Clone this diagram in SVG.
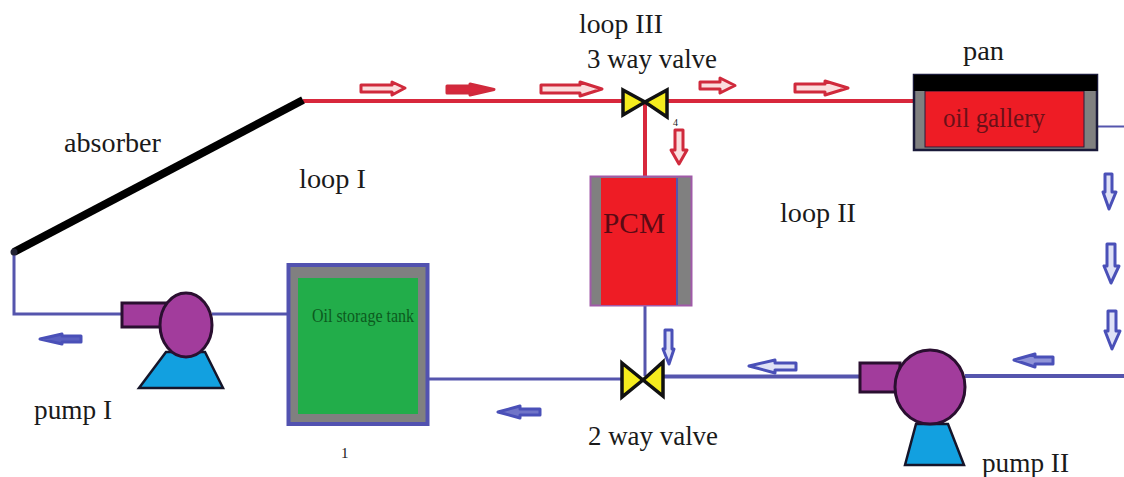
<svg xmlns="http://www.w3.org/2000/svg" width="1124" height="477" viewBox="0 0 1124 477">
<style>
text{font-family:"Liberation Serif","Times New Roman",serif;fill:#1a1a1a}
.lbl{font-size:27px}
.rp{fill:none;stroke:#d8283c;stroke-width:4}
.bp{fill:none;stroke:#5555ad;stroke-width:3}
.ra{fill:#fbdede;stroke:#d02a3c;stroke-width:3;stroke-linejoin:round}
.ba{fill:#dfe1f6;stroke:#4a50b8;stroke-width:3;stroke-linejoin:round}
.valve{fill:#f5ec1e;stroke:#111;stroke-width:3.5;stroke-linejoin:miter}
.casing{fill:#a23c9c;stroke:#2a0f30;stroke-width:3}
.base{fill:#12a0e0;stroke:#15152a;stroke-width:2.5}
.grey{fill:#808080}
.red{fill:#ee1c25}
</style>
<rect width="1124" height="477" fill="#fff"/>
<g id="connectors">
<path class="rp" d="M303 101H622M668 101H913M645 102V176"/>
<path class="bp" d="M14 250V314H121M212 314H288"/>
<path class="bp" d="M429 379H622"/>
<path class="bp" style="stroke-width:4" d="M663 376.500H860M965 376H1124"/>
<path class="bp" d="M645 306V376"/>
<path class="bp" style="stroke-width:2" d="M1098 126.500H1124"/>
<path class="ra" d="M361 85H392V82L405 88L392 95V92H361Z"/>
<path class="ra" style="fill:#d8283c" d="M447 86H470V84L494 89.500L470 95V93H447Z"/>
<path class="ra" d="M541 85H580V82L602 89L580 96V93H541Z"/>
<path class="ra" d="M700 82H720V78L735 85.500L720 93V89H700Z"/>
<path class="ra" d="M795 84H825V81L848 88L825 95V92H795Z"/>
<path class="ra" d="M675 130H683V150H687L679 164L671 150H675Z"/>
<path class="ba" d="M1105 174H1112V192H1116L1109 209L1103 192H1105Z"/>
<path class="ba" d="M1107 244H1115V266H1119L1111 283L1104 266H1107Z"/>
<path class="ba" d="M1108 311H1116V331H1120L1112 349L1105 331H1108Z"/>
<path class="ba" d="M665 330H672V349H674L669 364L663 349H665Z"/>
<path class="ba" style="fill:#5a60c0" d="M81 336V342H62V344L40 339L62 334V336Z"/>
<path class="ba" style="fill:#7074c8" d="M540 409V415H520V418L498 412L520 406V409Z"/>
<path class="ba" d="M796 363V370H775V373L749 366L775 360V363Z"/>
<path class="ba" style="fill:#9094d8" d="M1053 357V364H1035V367L1014 360L1035 354V357Z"/>
</g>
<g id="absorber"><path d="M14 252L303 100" stroke="#000" stroke-width="8" fill="none"/><circle cx="14" cy="252" r="3.500" fill="#223"/></g>
<g id="pump-1">
<rect class="casing" x="122" y="303" width="44" height="24"/>
<path class="base" d="M139 388L166 352H205L223 388Z"/>
<ellipse class="casing" cx="186" cy="325" rx="26" ry="32"/>
</g>
<g id="tank">
<rect x="288.500" y="265" width="139" height="159" class="grey" stroke="#5252b0" stroke-width="4"/>
<rect x="298" y="278" width="120" height="136" fill="#22ad4a"/>
<text x="312" y="322" font-size="18" textLength="102" lengthAdjust="spacingAndGlyphs" style="fill:#0c5a1e">Oil storage tank</text>
</g>
<g id="pcm">
<rect x="590.500" y="176.500" width="101" height="129" class="grey" stroke="#a05aa8" stroke-width="2"/>
<rect x="601" y="178" width="76" height="127" class="red"/>
<path d="M677 178V305" stroke="#5555ad" stroke-width="2"/>
<text x="603" y="233" font-size="29" textLength="62" lengthAdjust="spacingAndGlyphs" style="fill:#5a0a14">PCM</text>
</g>
<g id="pan">
<rect x="914" y="75" width="183" height="75" class="grey" stroke="#1a1a3a" stroke-width="2.500"/>
<rect x="925" y="91" width="159" height="56" class="red" stroke="#2a1a3a" stroke-width="1"/>
<rect x="914" y="75" width="183" height="16" fill="#000"/>
<text x="943" y="127" font-size="28" textLength="102" lengthAdjust="spacingAndGlyphs" style="fill:#6a1018">oil gallery</text>
</g>
<g id="valve-3way"><path class="valve" d="M623 90L645 102L667 90V117L645 102L623 115Z"/></g>
<g id="valve-2way"><path class="valve" d="M622 363L643 380L663 362V396L643 380L622 397Z"/></g>
<g id="pump-2">
<rect class="casing" x="860" y="363" width="40" height="29"/>
<path class="base" d="M905 465L916 424H948L964 465Z"/>
<ellipse class="casing" cx="930" cy="387" rx="35" ry="37"/>
</g>
<g id="labels">
<text class="lbl" x="579" y="33" textLength="84" lengthAdjust="spacingAndGlyphs">loop III</text>
<text class="lbl" x="587" y="68" textLength="130" lengthAdjust="spacingAndGlyphs">3 way valve</text>
<text class="lbl" x="963" y="60" textLength="41" lengthAdjust="spacingAndGlyphs">pan</text>
<text class="lbl" x="64" y="152" textLength="97" lengthAdjust="spacingAndGlyphs">absorber</text>
<text class="lbl" x="299" y="188" textLength="67" lengthAdjust="spacingAndGlyphs">loop I</text>
<text class="lbl" x="780" y="222" textLength="76" lengthAdjust="spacingAndGlyphs">loop II</text>
<text class="lbl" x="34" y="419" textLength="78" lengthAdjust="spacingAndGlyphs">pump I</text>
<text class="lbl" x="588" y="445" textLength="130" lengthAdjust="spacingAndGlyphs">2 way valve</text>
<text class="lbl" x="982" y="472" textLength="87" lengthAdjust="spacingAndGlyphs">pump II</text>
<text x="341" y="458" font-size="15">1</text>
<text x="673" y="126" font-size="10">4</text>
</g>
</svg>
